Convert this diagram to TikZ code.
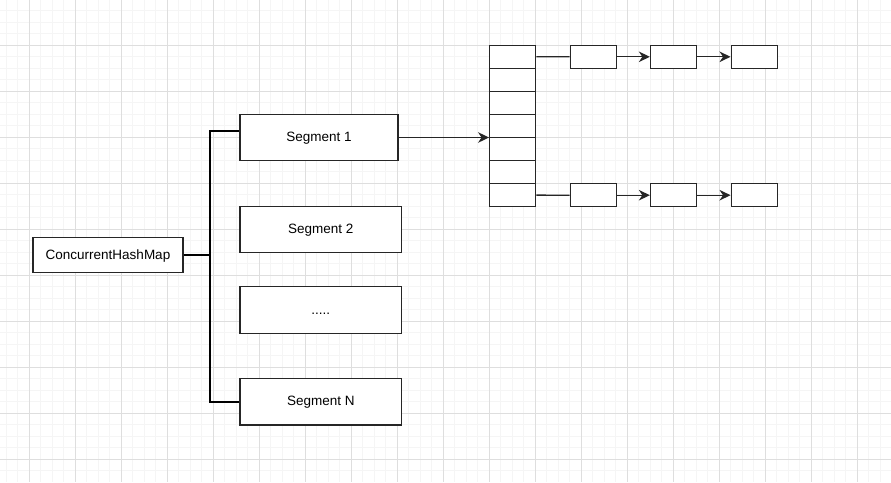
\documentclass[tikz,border=0pt]{standalone}
\usepackage{fontspec}
\setmainfont{Liberation Sans}
\usetikzlibrary{arrows.meta}

\begin{document}
\begin{tikzpicture}[x=1pt, y=-1pt,
	minorline/.style={draw=black!4, line width=0.8pt},
	majorline/.style={draw=black!13, line width=0.9pt},
	box/.style={draw=black!85, line width=1.3pt, fill=white, inner sep=0pt, text height=10pt, text depth=2pt, font=\fontsize{13.5}{16}\selectfont},
	cellbox/.style={box, minimum width=46pt, minimum height=23.05pt},
	trunk/.style={line width=2.3pt},
	link/.style={draw=black!85, line width=1.3pt},
	arr/.style={link, -{Stealth[length=11pt, width=10.5pt, inset=3.5pt]}}]
	\fill[white] (0,0) rectangle (891,482);
	\useasboundingbox (0,0) rectangle (891,482);

	\foreach \i in {0,...,76}{
		\draw[minorline] (6.3+11.5*\i,0) -- (6.3+11.5*\i,482);}
	\foreach \i in {0,...,40}{
		\draw[minorline] (0,10.8+11.5*\i) -- (891,10.8+11.5*\i);}
	\foreach \i in {0,...,18}{
		\draw[majorline] (29.3+46*\i,0) -- (29.3+46*\i,482);}
	\foreach \i in {0,...,9}{
		\draw[majorline] (0,45.3+46*\i) -- (891,45.3+46*\i);}

	\node[box, minimum width=150pt, minimum height=35pt] (chm) at (108,255.2) {ConcurrentHashMap};
	\node[box, minimum width=158pt, minimum height=46.4pt] (seg1) at (319,137.5) {Segment 1};
	\node[box, minimum width=161.7pt, minimum height=46.4pt] (seg2) at (320.8,229.5) {Segment 2};
	\node[box, minimum width=161.7pt, minimum height=46.4pt] (segdots) at (320.8,310) {.....};
	\node[box, minimum width=161.7pt, minimum height=46.4pt] (segN) at (320.8,401.8) {Segment N};

	\coordinate (fork) at (210.3,255.2);
	\draw[trunk] (chm.east) -- (fork) |- ([yshift=6.5pt]seg1.west);
	\draw[trunk] (fork) |- (segN.west);

	\foreach \k in {1,...,7}{
		\node[cellbox] (cell\k) at (512.7,45.3+23.05*\k-11.525) {};}

	\draw[arr] (seg1.east) -- (seg1.east -| cell4.west);

	\foreach \row / \y in {a/56.8, b/195.2}{
		\node[cellbox] (\row1) at (593.3,\y) {};
		\node[cellbox] (\row2) at (673.5,\y) {};
		\node[cellbox] (\row3) at (754.2,\y) {};
		\draw[arr] (\row1) -- (\row2);
		\draw[arr] (\row2) -- (\row3);}

	\draw[link] (cell1.east) -- (a1.west);
	\draw[link] (cell7.east) -- (b1.west);

\end{tikzpicture}
\end{document}
